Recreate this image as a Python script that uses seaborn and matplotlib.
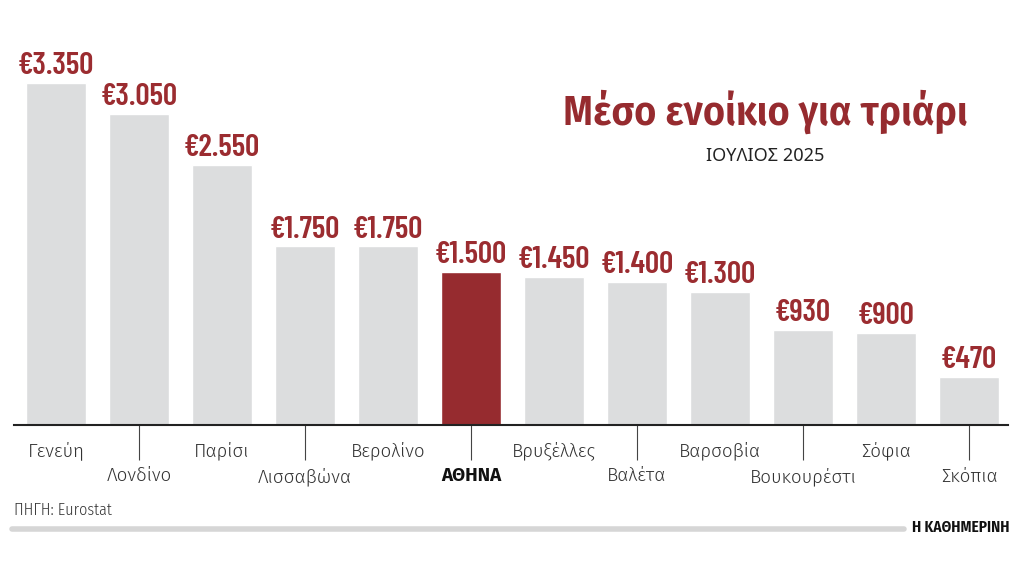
import matplotlib
matplotlib.use("Agg")
import matplotlib.pyplot as plt
import seaborn as sns
import pandas as pd


cities = ['Γενεύη', 'Λονδίνο', 'Παρίσι', 'Λισσαβώνα', 'Βερολίνο', 'ΑΘΗΝΑ',
          'Βρυξέλλες', 'Βαλέτα', 'Βαρσοβία', 'Βουκουρέστι', 'Σόφια', 'Σκόπια']
rent = [3350, 3050, 2550, 1750, 1750, 1500, 1450, 1400, 1300, 930, 900, 470]
highlight = 'ΑΘΗΝΑ'

GREY = '#dcddde'
RED = '#962b2f'
LABEL_RED = '#9b2c30'

NUM_FONT = ['Barlow Condensed', 'Fira Sans Extra Condensed', 'DejaVu Sans']
LABEL_FONT = ['Fira Sans', 'Noto Sans', 'DejaVu Sans']
COND_FONT = ['Fira Sans Condensed', 'Roboto Condensed', 'DejaVu Sans']
XCOND_FONT = ['Fira Sans Extra Condensed', 'Roboto Condensed', 'DejaVu Sans']

df = pd.DataFrame({'city': cities, 'rent': rent})
palette = {c: (RED if c == highlight else GREY) for c in cities}

sns.set_style('white')
plt.rcParams['font.family'] = LABEL_FONT

fig = plt.figure(figsize=(10.24, 5.76), dpi=100)
ax = fig.add_axes([14 / 1024, 151 / 576, 994 / 1024, 385 / 576])

sns.barplot(df, x='city', y='rent', hue='city', palette=palette,
            legend=False, width=0.72, saturation=1, ax=ax)

ax.set_xlim(-0.506, 11.47)
ax.set_ylim(0, 3771)

# value labels
for cont, v in zip(ax.containers, rent):
    ax.bar_label(cont, labels=[f'€{v:,}'.replace(',', '.')], padding=2,
                 color=LABEL_RED, fontsize=22.5, fontweight=600,
                 family=NUM_FONT)

# alternating category labels: short ticks up, long ticks down
even = list(range(0, len(cities), 2))
odd = list(range(1, len(cities), 2))
ax.set_xticks(even, labels=[cities[i] for i in even])
ax.set_xticks(odd, labels=[cities[i] for i in odd], minor=True)
ax.tick_params(axis='x', which='major', length=6, width=0.8, color='#444',
               pad=5.5, labelsize=13.5, labelcolor='#333')
ax.tick_params(axis='x', which='minor', length=25, width=0.8, color='#444',
               pad=5.5, labelsize=13.5, labelcolor='#333', bottom=True)
for t in ax.get_xticklabels() + ax.get_xticklabels(minor=True):
    t.set_fontweight(300)
    if t.get_text() == highlight:
        t.set_fontweight('bold')
        t.set_color('#111')

ax.set_xlabel('')
ax.set_ylabel('')
ax.set_yticks([])
for s in ['top', 'right', 'left']:
    ax.spines[s].set_visible(False)
ax.spines['bottom'].set_color('#222')
ax.spines['bottom'].set_linewidth(1.5)

# titles
fig.text(765 / 1024, 1 - 112 / 576, 'Μέσο ενοίκιο για τριάρι', ha='center',
         va='center', fontsize=30.2, fontweight=600, color=RED, family=COND_FONT)
fig.text(765 / 1024, 1 - 156 / 576, 'ΙΟΥΛΙΟΣ 2025', ha='center', va='center',
         fontsize=13, color='#222', family=['Noto Sans', 'DejaVu Sans'])

# footer
fig.text(14 / 1024, 1 - 510 / 576, 'ΠΗΓΗ: Eurostat', ha='left', va='center',
         fontsize=11.5, fontweight=300, color='#333', family=COND_FONT)
fig.add_artist(plt.Line2D([12 / 1024, 904 / 1024], [1 - 529 / 576] * 2,
                          color='#d6d6d6', lw=4, transform=fig.transFigure))
fig.text(1010 / 1024, 1 - 527 / 576, 'Η ΚΑΘΗΜΕΡΙΝΗ', ha='right', va='center',
         fontsize=12, fontweight=600, color='#111', family=XCOND_FONT)

fig.savefig('out.png', dpi=100)
